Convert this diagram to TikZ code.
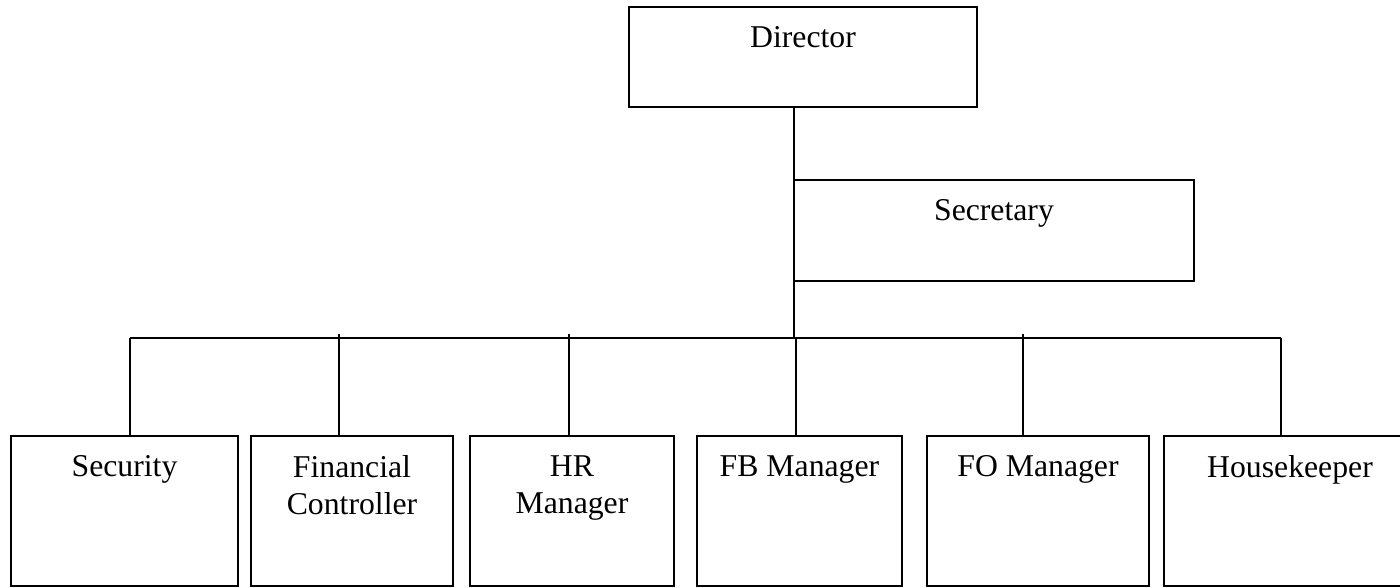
\documentclass[tikz,border=0pt]{standalone}
\usepackage{fontspec}
\setmainfont{Liberation Serif}
\usepackage{tikz}
\usetikzlibrary{positioning}
\tikzset{x=0.75pt, y=-0.75pt,
	every picture/.style={line width=1.2pt},
	post/.style={draw, line width=1.2pt, minimum height=112.5pt, inner sep=0pt},
	title/.style={anchor=north, align=center, inner sep=0pt, yshift=-14.5pt,
		font=\fontsize{23.8pt}{27.8pt}\selectfont}}

\begin{document}
\begin{tikzpicture}
    \useasboundingbox (0,0) rectangle (1400,587);
    \node[post, minimum width=261pt, minimum height=75pt, label={[title]north:Director}] (dir) at (803,57) {};
    \node[post, minimum width=300pt, minimum height=75.75pt, label={[title]north:Secretary}] (sec) at (994,230.5) {};
    \node[post, minimum width=170.25pt, label={[title]north:Security}] (secu) at (124.5,511) {};
    \node[post, minimum width=151.5pt, label={[title]north:{Financial\\Controller}}] (fin) at (352,511) {};
    \node[post, minimum width=153pt, label={[title]north:{HR\\Manager}}] (hr) at (572,511) {};
    \node[post, minimum width=153.75pt, label={[title]north:FB Manager}] (fb) at (799.5,511) {};
    \node[post, minimum width=166.5pt, label={[title]north:FO Manager}] (fo) at (1038,511) {};
    \node[post, minimum width=189pt, label={[title]north:Housekeeper}] (hk) at (1290,511) {};
    % bus under the secretary
    \coordinate (junc) at (794,338);
    \coordinate (busl) at (130,338);
    \coordinate (busr) at (1281,338);
    \draw (junc |- dir.south) -- (junc);
    \draw (busl) -- (busr);
    \draw (busl) -- (busl |- secu.north);
    \draw (busr) -- (busr |- hk.north);
    \foreach \x/\n in {339/fin, 569/hr, 1023/fo}
        \draw (\x,334) -- (\x,334 |- \n.north);
    \draw (796,338) -- (796,338 |- fb.north);
\end{tikzpicture}
\end{document}
